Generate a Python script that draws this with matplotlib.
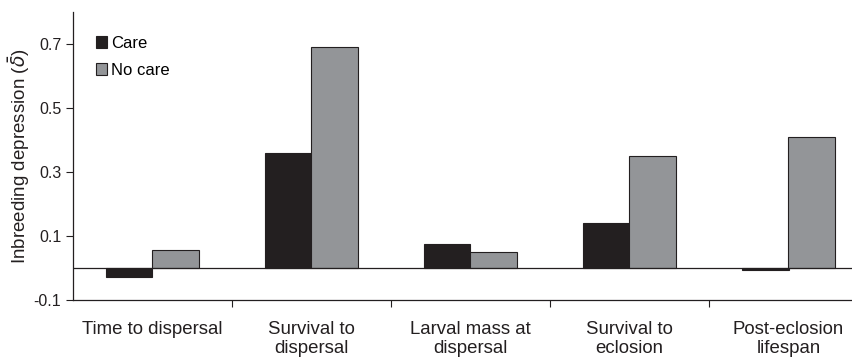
import matplotlib

matplotlib.use("Agg")
import matplotlib.pyplot as plt
import numpy as np

plt.rcParams["font.family"] = ["Liberation Sans", "DejaVu Sans"]

categories = ["Time to dispersal", "Survival to\ndispersal", "Larval mass at\ndispersal",
              "Survival to\neclosion", "Post-eclosion\nlifespan"]
care = [-0.027, 0.36, 0.074, 0.14, -0.005]
no_care = [0.056, 0.69, 0.05, 0.35, 0.41]

fig = plt.figure(figsize=(8.53, 3.58), dpi=100)
ax = fig.add_axes([73 / 853, 58 / 358, 780 / 853, 288 / 358])

x = np.arange(len(categories)) + 0.5
w = 0.29
ax.bar(x - w / 2, care, w, color="#231f20", edgecolor="#231f20", linewidth=0.8, label="Care")
ax.bar(x + w / 2, no_care, w, color="#939598", edgecolor="#231f20", linewidth=0.8, label="No care")
ax.axhline(0, color="#231f20", linewidth=0.9)

ax.set_ylim(-0.1, 0.8)
ax.set_xlim(0, 780 / 159)
ax.set_yticks([-0.1, 0.1, 0.3, 0.5, 0.7])
ax.set_yticklabels(["-0.1", "0.1", "0.3", "0.5", "0.7"])
ax.set_xticks(np.arange(1, 5))
ax.set_xticklabels([])
ax.set_xticks(x, minor=True)
ax.set_xticklabels(categories, minor=True, fontsize=13.4, color="#231f20", linespacing=1.15)
ax.tick_params(axis="x", which="major", direction="out", length=5, color="#231f20")
ax.tick_params(axis="x", which="minor", length=0, pad=15)
ax.tick_params(axis="y", direction="out", length=5, labelsize=11.5, color="#231f20", labelcolor="#231f20")
for s in ["top", "right"]:
    ax.spines[s].set_visible(False)
for s in ["left", "bottom"]:
    ax.spines[s].set_color("#231f20")
    ax.spines[s].set_linewidth(0.9)

ax.set_ylabel(r"Inbreeding depression ($\bar{\delta}$)", fontsize=13.5, color="#231f20", labelpad=1)
ax.legend(loc="upper left", frameon=False, fontsize=12, handlelength=0.7, handleheight=0.7,
          handletextpad=0.2, labelspacing=0.75, bbox_to_anchor=(0.01, 0.97))

plt.savefig("out.png", dpi=100)
